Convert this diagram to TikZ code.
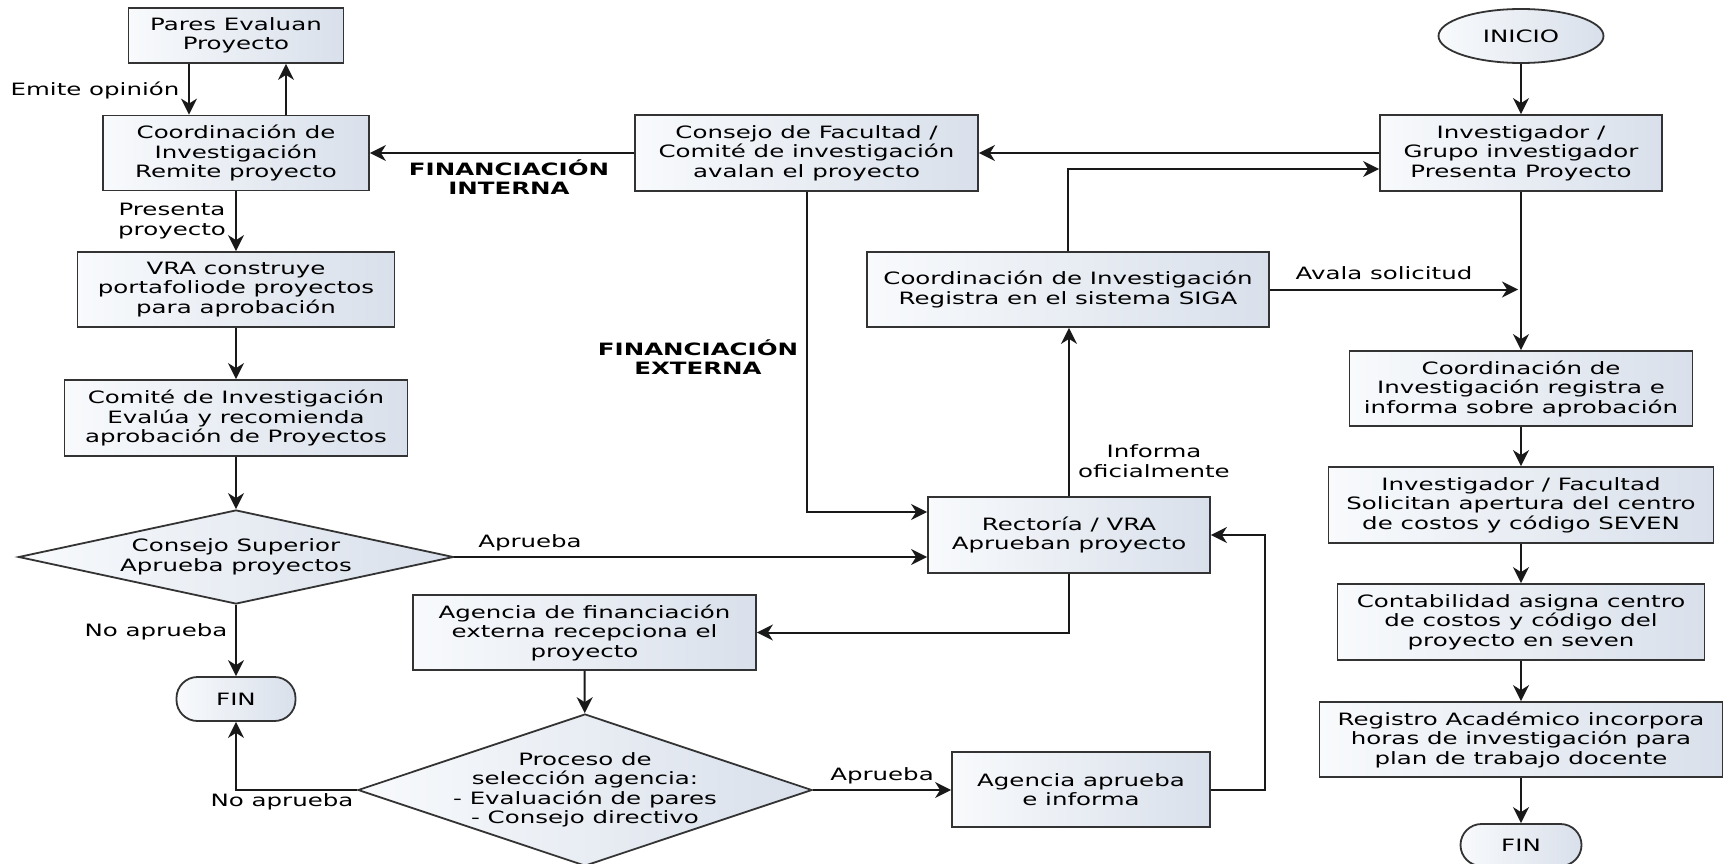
\documentclass[tikz,border=0pt]{standalone}
\usepackage{fontspec}
\usetikzlibrary{arrows.meta,shapes.geometric}
\newfontfamily\flowfont[FakeStretch=1.44]{DejaVu Sans}
\definecolor{boxlight}{HTML}{F8FAFC}
\definecolor{boxshade}{HTML}{D9E0EB}
\definecolor{boxline}{HTML}{333333}

\begin{document}
\begin{tikzpicture}[x=1pt,y=-1pt]

    \tikzset{
      procbox/.style={
        draw=boxline,
        line width=1.8pt,
        left color=boxlight,
        right color=boxshade,
        align=center,
        inner sep=2pt,
        font=\flowfont\fontsize{17}{19.5}\selectfont,
      },
      decision/.style={procbox, shape=diamond},
      terminal/.style={procbox, rounded corners=21pt},
      flow/.style={
        draw=black!90,
        line width=2pt,
        -{Stealth[length=16pt,width=16pt,inset=5pt]},
      },
      edgetext/.style={
        align=center,
        inner sep=0pt,
        font=\flowfont\fontsize{17}{19.5}\selectfont,
      },
      headtext/.style={edgetext, font=\flowfont\bfseries\fontsize{17}{19.5}\selectfont},
    }
    \useasboundingbox (0,0) rectangle (1723,864);

    \node[procbox, minimum width=215pt, minimum height=55pt] (pares) at (236,35.5) {Pares Evaluan\\Proyecto};
    \node[procbox, minimum width=266pt, minimum height=75pt] (coordint) at (236,153) {Coordinación de\\Investigación\\Remite proyecto};
    \node[procbox, minimum width=343pt, minimum height=76pt] (consejofac) at (806.5,153) {Consejo de Facultad /\\Comité de investigación\\avalan el proyecto};
    \node[procbox, minimum width=282pt, minimum height=76pt] (investigador) at (1521,153) {Investigador /\\Grupo investigador\\Presenta Proyecto};
    \node[procbox, shape=ellipse, minimum width=165pt, minimum height=54pt] (inicio) at (1521,36) {INICIO};
    \node[procbox, minimum width=317pt, minimum height=75pt] (vra) at (236,289.5) {VRA construye\\portafoliode proyectos\\para aprobación};
    \node[procbox, minimum width=402pt, minimum height=75pt] (siga) at (1068,289.5) {Coordinación de Investigación\\Registra en el sistema SIGA};
    \node[procbox, minimum width=343pt, minimum height=75pt] (coordreg) at (1521,388.5) {Coordinación de\\Investigación registra e\\informa sobre aprobación};
    \node[procbox, minimum width=343pt, minimum height=76pt] (comite) at (236,418) {Comité de Investigación\\Evalúa y recomienda\\aprobación de Proyectos};
    \node[procbox, minimum width=282pt, minimum height=76pt] (rectoria) at (1069,535) {Rectoría / VRA\\Aprueban proyecto};
    \node[procbox, minimum width=385pt, minimum height=76pt] (solicitan) at (1521,505) {Investigador / Facultad\\Solicitan apertura del centro\\de costos y código SEVEN};
    \node[decision, aspect=4.6, minimum width=435pt, minimum height=94pt] (superior) at (236,557) {Consejo Superior\\Aprueba proyectos};
    \node[procbox, minimum width=343pt, minimum height=75pt] (agenciafin) at (584.5,632.5) {Agencia de financiación\\externa recepciona el\\proyecto};
    \node[procbox, minimum width=367pt, minimum height=76pt] (contab) at (1521,622) {Contabilidad asigna centro\\de costos y código del\\proyecto en seven};
    \node[terminal, minimum width=119pt, minimum height=44pt] (fin1) at (236,699) {FIN};
    \node[decision, aspect=2.95, inner sep=-6pt, minimum width=454pt, minimum height=152pt] (proceso) at (585,790) {Proceso de\\selección agencia:\\- Evaluación de pares\\- Consejo directivo};
    \node[procbox, minimum width=258pt, minimum height=75pt] (agenciaapr) at (1081,789.5) {Agencia aprueba\\e informa};
    \node[procbox, minimum width=403pt, minimum height=75pt] (registro) at (1521,739.5) {Registro Académico incorpora\\horas de investigación para\\plan de trabajo docente};
    \node[terminal, minimum width=121pt, minimum height=42pt] (fin2) at (1521,845) {FIN};

    \node[edgetext] (emite) at (95,90) {Emite opinión};
    \node[edgetext] (presenta) at (172,221) {Presenta\\proyecto};
    \node[headtext] (interna) at (509,177) {FINANCIACIÓN\\INTERNA};
    \node[headtext] (externa) at (698,357) {FINANCIACIÓN\\EXTERNA};
    \node[edgetext] (avala) at (1384,273) {Avala solicitud};
    \node[edgetext] (informa) at (1154,461) {Informa\\oficialmente};
    \node[edgetext] (aprueba) at (530,543) {Aprueba};
    \node[edgetext] (noaprueba) at (156,632) {No aprueba};
    \node[edgetext] (aprueba2) at (882,776) {Aprueba};
    \node[edgetext] (noaprueba2) at (282,802) {No aprueba};

    \coordinate (bajada) at ([xshift=-47pt]pares.south);
    \coordinate (subida) at ([xshift=50pt]pares.south);
    \coordinate (retorno) at ([yshift=-16pt]investigador.west);
    \coordinate (solicitud) at (investigador.south |- siga.east);
    \coordinate (haciarect) at ([yshift=23pt]rectoria.west);
    \coordinate (vuelta) at ([xshift=54pt]agenciaapr.east);

    \draw[flow] (inicio) -- (investigador);
    \draw[flow] (bajada) -- (bajada |- coordint.north);
    \draw[flow] (subida |- coordint.north) -- (subida);
    \draw[flow] (investigador) -- (consejofac);
    \draw[flow] (consejofac) -- (coordint);
    \draw[flow] (siga.north) |- (retorno);
    \draw[flow, shorten >=3pt] (siga.east) -- (solicitud);
    \draw[flow] (coordint) -- (vra);
    \draw[flow] (vra) -- (comite);
    \draw[flow] (comite) -- (superior);
    \draw[flow] (superior) -- (fin1);
    \draw[flow] (superior.east) -- (superior.east -| rectoria.west);
    \draw[flow] (consejofac.south) |- (haciarect);
    \draw[flow] (rectoria.north) -- (rectoria.north |- siga.south);
    \draw[flow] (rectoria.south) |- (agenciafin.east);
    \draw[flow] (agenciafin) -- (proceso);
    \draw[flow] (proceso.west) -| (fin1.south);
    \draw[flow] (proceso.east) -- (proceso.east -| agenciaapr.west);
    \draw[flow] (agenciaapr.east) -- (vuelta) |- (rectoria.east);
    \draw[flow] (investigador) -- (coordreg);
    \draw[flow] (coordreg) -- (solicitan);
    \draw[flow] (solicitan) -- (contab);
    \draw[flow] (contab) -- (registro);
    \draw[flow] (registro) -- (fin2);

\end{tikzpicture}
\end{document}
